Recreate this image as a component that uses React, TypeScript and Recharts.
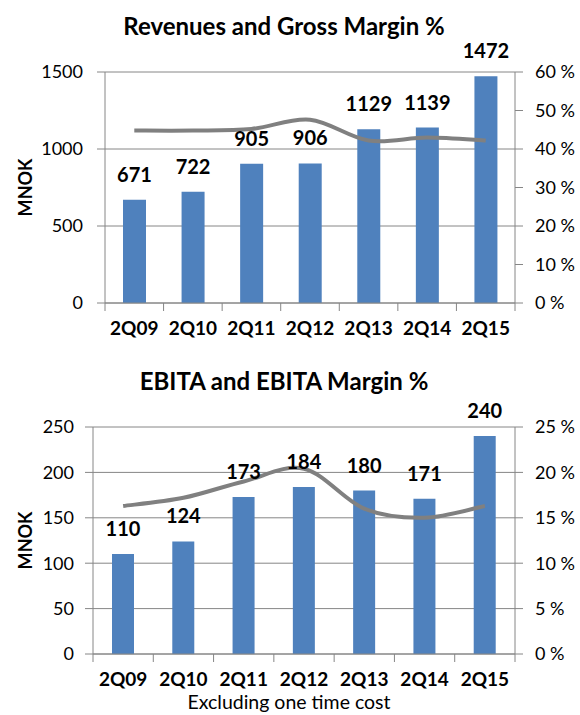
import React from 'react';
import { ComposedChart, Bar, Line, XAxis, YAxis, CartesianGrid, LabelList } from 'recharts';

const categories = ['2Q09', '2Q10', '2Q11', '2Q12', '2Q13', '2Q14', '2Q15'];
const revenues = [671, 722, 905, 906, 1129, 1139, 1472];
const grossMargin = [44.8, 44.8, 45.2, 47.6, 42.2, 43.0, 42.2];
const ebita = [110, 124, 173, 184, 180, 171, 240];
const ebitaMargin = [16.3, 17.2, 19.0, 20.4, 16.0, 15.0, 16.3];

const revTicks = [0, 500, 1000, 1500];
const gmTicks = [0, 10, 20, 30, 40, 50, 60];
const ebitaTicks = [0, 50, 100, 150, 200, 250];
const emTicks = [0, 5, 10, 15, 20, 25];

const topTitle = 'Revenues and Gross Margin %';
const bottomTitle = 'EBITA and EBITA Margin %';
const yLabel = 'MNOK';
const footer = 'Excluding one time cost';

const revData = categories.map((c, i) => ({ cat: c, value: revenues[i], margin: grossMargin[i] }));
const ebitaData = categories.map((c, i) => ({ cat: c, value: ebita[i], margin: ebitaMargin[i] }));

const FONT = 'Lato, "Open Sans", sans-serif';
const AXIS = '#868686';
const BAR = '#4f81bd';
const LINE = '#808080';

// Excel-like smoothed line (Catmull-Rom through points)
const smoothCurve = (context: any) => {
  let pts: number[][] = [];
  return {
    areaStart() {},
    areaEnd() {},
    lineStart() { pts = []; },
    point(x: number, y: number) { pts.push([+x, +y]); },
    lineEnd() {
      if (!pts.length) return;
      context.moveTo(pts[0][0], pts[0][1]);
      for (let i = 0; i < pts.length - 1; i++) {
        const p0 = pts[i - 1] || pts[i];
        const p1 = pts[i];
        const p2 = pts[i + 1];
        const p3 = pts[i + 2] || p2;
        context.bezierCurveTo(
          p1[0] + (p2[0] - p0[0]) / 6, p1[1] + (p2[1] - p0[1]) / 6,
          p2[0] - (p3[0] - p1[0]) / 6, p2[1] - (p3[1] - p1[1]) / 6,
          p2[0], p2[1]
        );
      }
    },
  };
};

const makeTick = (fallbackHalf: number) => (props: any) => {
  const { x, y, payload, index } = props;
  const half = payload && typeof payload.offset === 'number' && payload.offset > 0 ? payload.offset : fallbackHalf;
  const last = index === categories.length - 1;
  return (
    <g>
      <line x1={x - half} x2={x - half} y1={y} y2={y + 8} stroke={AXIS} strokeWidth={1} />
      {last ? <line x1={x + half} x2={x + half} y1={y} y2={y + 8} stroke={AXIS} strokeWidth={1} /> : null}
      <text x={x} y={y + 32} textAnchor="middle" fontFamily={FONT} fontWeight={700} fontSize={19} fill="#000">
        {payload.value}
      </text>
    </g>
  );
};

const yTitle = (dx: number) => (props: any) => {
  const vb = props.viewBox || {};
  const cx = (vb.x || 0) + dx;
  const cy = (vb.y || 0) + (vb.height || 0) / 2;
  return (
    <text x={cx} y={cy} transform={`rotate(-90, ${cx}, ${cy})`} textAnchor="middle" dominantBaseline="central"
      fontFamily={FONT} fontWeight={700} fontSize={18} fill="#000">
      {yLabel}
    </text>
  );
};

const tickStyle = { fontFamily: FONT, fontSize: 18, fill: '#000' };
const labelStyle = { fontFamily: FONT, fontSize: 20, fontWeight: 700, fill: '#000' };

export default function App() {
  return (
    <div style={{ position: 'absolute', left: 0, top: 0, width: 580, height: 715, background: '#fff', overflow: 'hidden' }}>
      <svg width={580} height={715} style={{ position: 'absolute', left: 0, top: 0 }}>
        <text x={284} y={35} textAnchor="middle" fontFamily={FONT} fontWeight={700} fontSize={24} fill="#000">{topTitle}</text>
        <text x={284} y={390} textAnchor="middle" fontFamily={FONT} fontWeight={700} fontSize={24} fill="#000">{bottomTitle}</text>
        <text x={289} y={709} textAnchor="middle" fontFamily={FONT} fontSize={19.5} fill="#000">{footer}</text>
      </svg>

      <div style={{ position: 'absolute', left: 0, top: 0 }}>
        <ComposedChart width={580} height={345} data={revData} margin={{ top: 72, right: 0, bottom: 0, left: 0 }}>
          <CartesianGrid yAxisId="left" vertical={false} stroke={AXIS} strokeWidth={1} />
          <XAxis dataKey="cat" height={42} tickLine={false} tickSize={0} tickMargin={0} axisLine={{ stroke: AXIS }} interval={0}
            tick={makeTick(410 / 14)} />
          <YAxis yAxisId="left" width={105} domain={[0, 1500]} ticks={revTicks} tickSize={8} tickMargin={14}
            tickLine={{ stroke: AXIS }} axisLine={{ stroke: AXIS }} tick={tickStyle} interval={0}
            label={{ content: yTitle(25) }} />
          <YAxis yAxisId="right" orientation="right" width={65} domain={[0, 60]} ticks={gmTicks} tickSize={8} tickMargin={12}
            tickLine={{ stroke: AXIS }} axisLine={{ stroke: AXIS }} tick={tickStyle} interval={0}
            tickFormatter={(v: number) => `${v} %`} />
          <Bar yAxisId="left" dataKey="value" fill={BAR} barSize={23} isAnimationActive={false}>
            <LabelList dataKey="value" position="top" offset={18} style={labelStyle} />
          </Bar>
          <Line yAxisId="right" dataKey="margin" type={smoothCurve as any} stroke={LINE} strokeWidth={4} dot={false} isAnimationActive={false} />
        </ComposedChart>
      </div>

      <div style={{ position: 'absolute', left: 0, top: 360 }}>
        <ComposedChart width={580} height={337} data={ebitaData} margin={{ top: 67, right: 0, bottom: 0, left: 0 }}>
          <CartesianGrid yAxisId="left" vertical={false} stroke={AXIS} strokeWidth={1} />
          <XAxis dataKey="cat" height={43} tickLine={false} tickSize={0} tickMargin={0} axisLine={{ stroke: AXIS }} interval={0}
            tick={makeTick(422 / 14)} />
          <YAxis yAxisId="left" width={93} domain={[0, 250]} ticks={ebitaTicks} tickSize={8} tickMargin={11}
            tickLine={{ stroke: AXIS }} axisLine={{ stroke: AXIS }} tick={tickStyle} interval={0}
            label={{ content: yTitle(25) }} />
          <YAxis yAxisId="right" orientation="right" width={65} domain={[0, 25]} ticks={emTicks} tickSize={8} tickMargin={12}
            tickLine={{ stroke: AXIS }} axisLine={{ stroke: AXIS }} tick={tickStyle} interval={0}
            tickFormatter={(v: number) => `${v} %`} />
          <Bar yAxisId="left" dataKey="value" fill={BAR} barSize={22} isAnimationActive={false}>
            <LabelList dataKey="value" position="top" offset={18} style={labelStyle} />
          </Bar>
          <Line yAxisId="right" dataKey="margin" type={smoothCurve as any} stroke={LINE} strokeWidth={4} dot={false} isAnimationActive={false} />
        </ComposedChart>
      </div>
    </div>
  );
}
